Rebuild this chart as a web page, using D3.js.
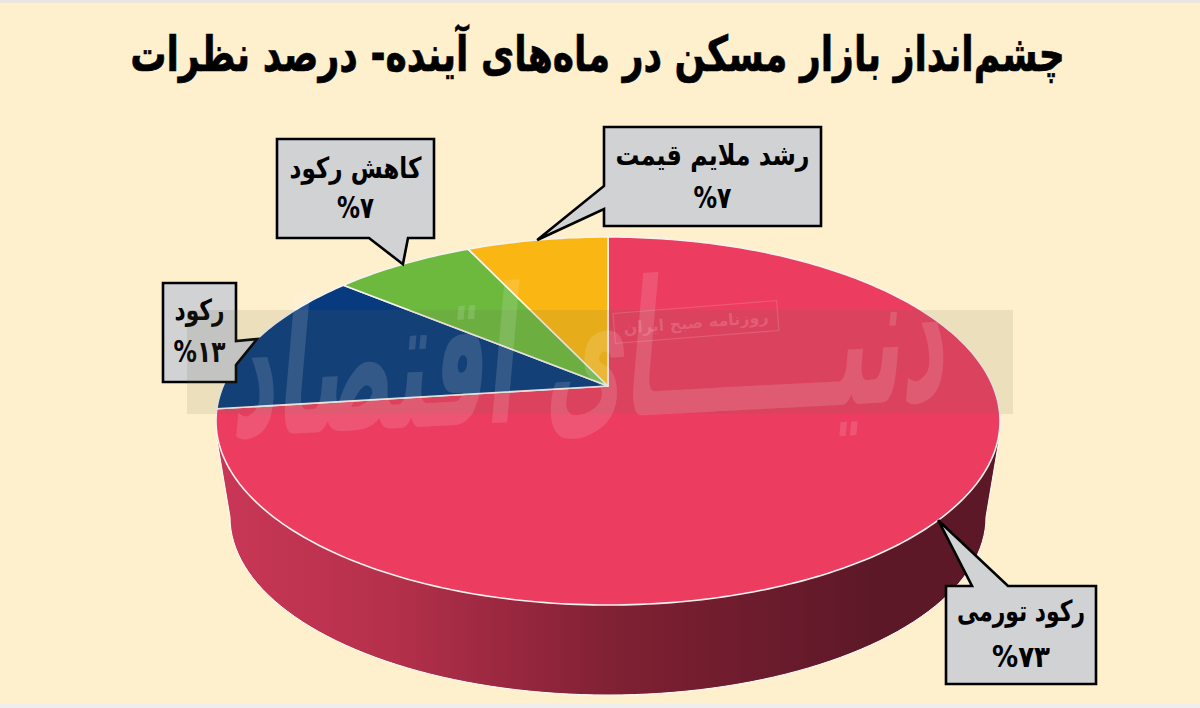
<!DOCTYPE html>
<html lang="fa">
<head>
<meta charset="utf-8">
<script src="https://cdn.jsdelivr.net/npm/d3@7"></script>
<style>
html,body{margin:0;padding:0;background:#fef0cd;}
svg{display:block;}
text{font-family:"DejaVu Sans","Noto Sans",sans-serif;font-weight:700;}
</style>
</head>
<body>
<svg id="c" width="1200" height="708"></svg>
<script>
const titleText = "چشم‌انداز بازار مسکن در ماه‌های آینده- درصد نظرات";
const categories = ["رکود تورمی", "رکود", "کاهش رکود", "رشد ملایم قیمت"];
const seriesValues = [73, 13, 7, 7];
const sliceColors = ["#ec3c60", "#073a7f", "#6cb93e", "#fab613"];
const watermarkMain = "دنیــــــای اقتصاد";
const watermarkStamp = "روزنامه صبح ایران";

const W = 1200, H = 708;
const svg = d3.select("#c");
const cx = 608, cy = 421, rx = 392, ry = 184, apexV = -0.19;
const lower = {cy: 517, rx: 378, ry: 178};

const toFa = s => String(s).replace(/\d/g, d => "۰۱۲۳۴۵۶۷۸۹"[d]);

// draw a text centred at (x,y), squeezed horizontally to a target width
function fitText(parent, str, x, y, size, width, rtl) {
  const t = parent.append("text").attr("text-anchor", "middle").attr("font-size", size).attr("fill", "#000").text(str);
  if (rtl) t.attr("direction", "rtl");
  const len = t.node().getComputedTextLength();
  t.attr("transform", `translate(${x},${y}) scale(${width / len},1)`);
  return t;
}

svg.append("rect").attr("width", W).attr("height", H).attr("fill", "#fef0cd");
svg.append("rect").attr("width", W).attr("height", 3).attr("fill", "#e9e6e1");
svg.append("rect").attr("y", 704).attr("width", W).attr("height", 4).attr("fill", "#eeeeee");

// title
fitText(svg, titleText, 597.5, 71, 49, 935, true).attr("stroke", "#000").attr("stroke-width", 0.7);

// perspective mapping of a true pie angle onto the tilted rim
function project(r, a) {
  const X = r * Math.sin(a), Y = -r * Math.cos(a);
  const den = 1 + Y * apexV;
  return [cx + rx * X * Math.sqrt(1 - apexV * apexV) / den, cy + ry * (Y + apexV) / den];
}
const pie = d3.pie().sort(null).value(d => d)(seriesValues);
const lineGen = d3.line();

// side wall
const defs = svg.append("defs");
const grad = defs.append("linearGradient").attr("id", "wall")
  .attr("gradientUnits", "userSpaceOnUse").attr("x1", 226).attr("x2", 880).attr("y1", 0).attr("y2", 0);
[[0, "#c83656"], [0.25, "#b5304b"], [0.6, "#7f2033"], [1, "#5c1827"]].forEach(s =>
  grad.append("stop").attr("offset", s[0]).attr("stop-color", s[1]));
const lowerArc = d3.range(0, 181, 2).map(t => {
  const a = (180 - t) * Math.PI / 180;
  return [cx + lower.rx * Math.cos(a), lower.cy + lower.ry * Math.sin(a)];
});
const wallPts = [[217, 440], ...lowerArc, [999, 440]];
svg.append("path").attr("d", lineGen(wallPts) + "Z")
  .attr("fill", "url(#wall)").attr("stroke", "#fff").attr("stroke-width", 1);

// top slices
svg.append("g").selectAll("path").data(pie).join("path")
  .attr("d", d => {
    const n = Math.max(8, Math.ceil((d.endAngle - d.startAngle) * 60));
    const pts = d3.range(n + 1).map(i => project(1, d.startAngle + (d.endAngle - d.startAngle) * i / n));
    return lineGen([project(0, 0), ...pts]) + "Z";
  })
  .attr("fill", (d, i) => sliceColors[i])
  .attr("stroke", "#f6f2ee").attr("stroke-width", 1.6).attr("stroke-linejoin", "round");

// callouts: box, pointer base on a given side; tip lands on slice mid-rim
const boxes = [
  {x: 946, y: 586, w: 150, h: 98, side: "top", b0: 972, b1: 1008, ty: [621, 667], tw: [128, 58]},
  {x: 163, y: 283, w: 73, h: 99, side: "right", b0: 341, b1: 365, ty: [320, 362], tw: [50, 52]},
  {x: 277, y: 139, w: 157, h: 99, side: "bottom", b0: 369, b1: 408, ty: [178, 218], tw: [132, 37]},
  {x: 604, y: 127, w: 217, h: 99, side: "left", b0: 186, b1: 209, ty: [165, 208], tw: [194, 38]}
];
const call = svg.append("g").selectAll("g").data(pie).join("g");
call.append("path").attr("d", (d, i) => {
  const b = boxes[i], x0 = b.x, x1 = b.x + b.w, y0 = b.y, y1 = b.y + b.h;
  const tip = project(1, (d.startAngle + d.endAngle) / 2);
  let p;
  if (b.side === "top") p = [[x0, y0], [b.b0, y0], tip, [b.b1, y0], [x1, y0], [x1, y1], [x0, y1]];
  if (b.side === "right") p = [[x0, y0], [x1, y0], [x1, b.b0], tip, [x1, b.b1], [x1, y1], [x0, y1]];
  if (b.side === "bottom") p = [[x0, y0], [x1, y0], [x1, y1], [b.b1, y1], tip, [b.b0, y1], [x0, y1]];
  if (b.side === "left") p = [[x0, y0], [x1, y0], [x1, y1], [x0, y1], [x0, b.b1], tip, [x0, b.b0]];
  return lineGen(p) + "Z";
}).attr("fill", "#d0d2d4").attr("stroke", "#000").attr("stroke-width", 2.6).attr("stroke-linejoin", "miter");
call.each(function (d, i) {
  const g = d3.select(this), b = boxes[i], mx = b.x + b.w / 2;
  fitText(g, categories[i], mx, b.ty[0], 29, b.tw[0], true);
  fitText(g, "%" + toFa(d.value), mx, b.ty[1], 30, b.tw[1], false);
});

// watermark
const wm = svg.append("g");
wm.append("rect").attr("x", 187).attr("y", 310).attr("width", 826).attr("height", 104)
  .attr("fill", "#6e6a50").attr("opacity", 0.13);
const big = wm.append("g").attr("opacity", 0.13);
const bigT = big.append("text").attr("direction", "rtl").attr("text-anchor", "middle")
  .attr("font-size", 170).attr("fill", "#fff").text(watermarkMain);
const bigLen = bigT.node().getComputedTextLength();
bigT.attr("transform", `translate(588,418) rotate(-3) skewX(-8) scale(${715 / bigLen},1.1)`);
const st = wm.append("g").attr("transform", "translate(696,322) rotate(-4.5)");
st.append("rect").attr("x", -82).attr("y", -15).attr("width", 164).attr("height", 30)
  .attr("fill", "none").attr("stroke", "#fff").attr("stroke-opacity", 0.14).attr("stroke-width", 1.2);
st.append("text").attr("y", 6).attr("direction", "rtl").attr("text-anchor", "middle")
  .attr("font-size", 16).attr("fill", "#fff").attr("fill-opacity", 0.16).text(watermarkStamp);
</script>
</body>
</html>
